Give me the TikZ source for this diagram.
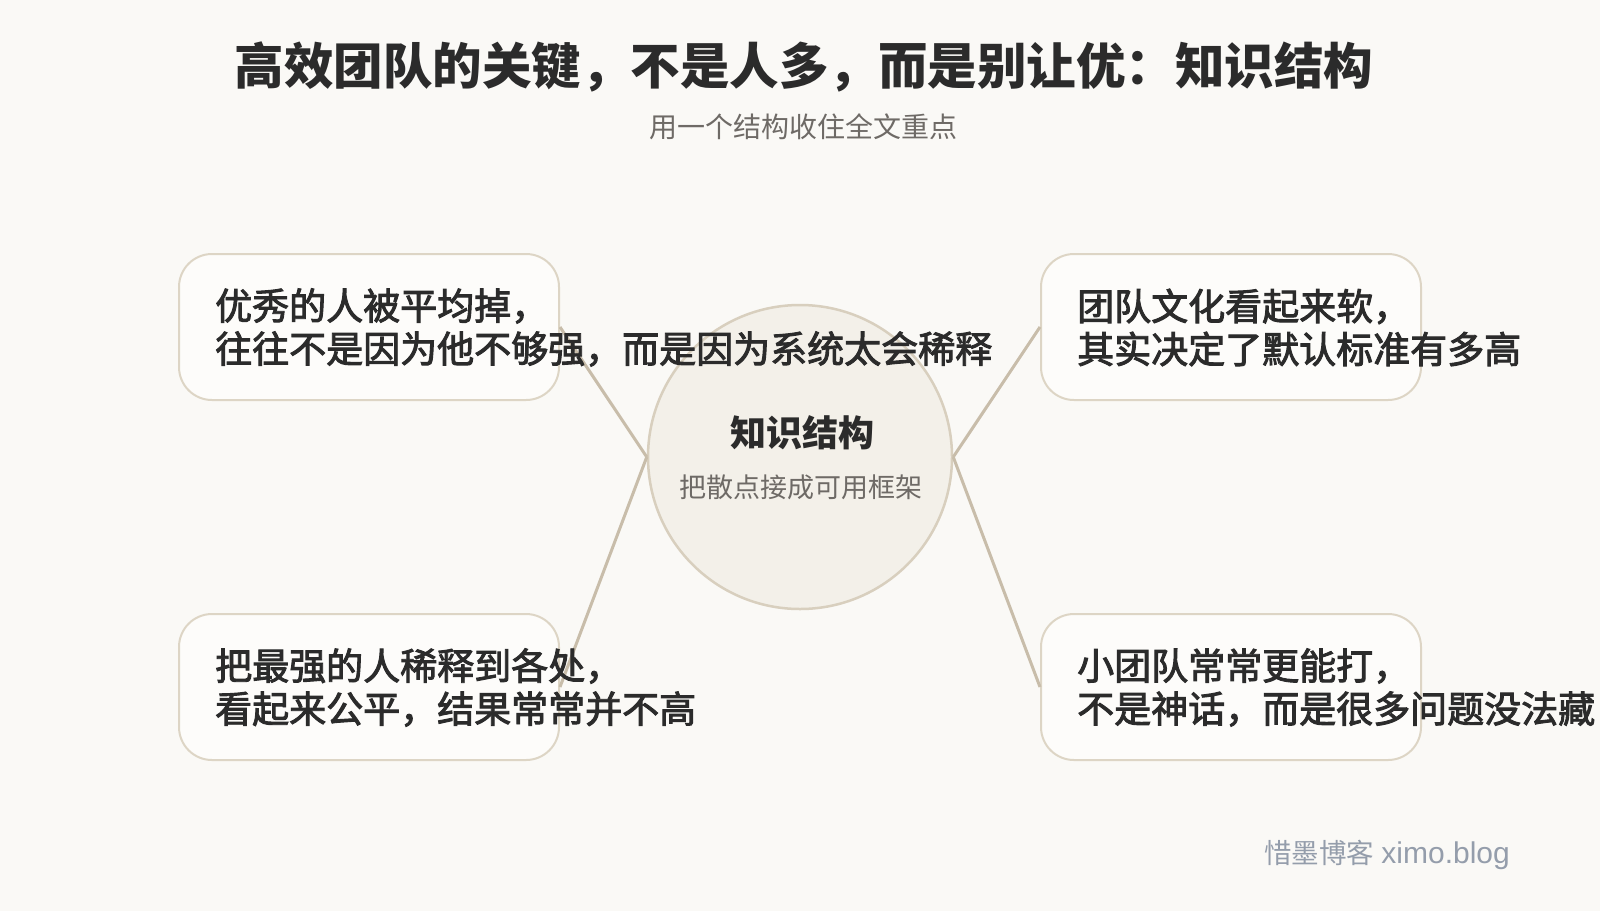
\documentclass[tikz,border=0pt]{standalone}
\usepackage{fontspec}
\setmainfont{Noto Sans CJK SC}
\newfontfamily\cjk{Noto Sans CJK SC}
\newfontfamily\cjkm{Noto Sans CJK SC}[FakeBold=2.5]
\newfontfamily\lat{Liberation Sans}
\definecolor{bgc}{HTML}{FAF9F6}
\definecolor{boxfill}{HTML}{FDFCFA}
\definecolor{boxdraw}{HTML}{DDD5C5}
\definecolor{circfill}{HTML}{F3F0E9}
\definecolor{circdraw}{HTML}{D8CFBE}
\definecolor{linec}{HTML}{C8BDAA}
\definecolor{titlec}{HTML}{2B2B2B}
\definecolor{subc}{HTML}{6E6A66}
\definecolor{markc}{HTML}{949DAB}
\tikzset{
  card/.style={draw=boxdraw, line width=2pt, fill=boxfill, rounded corners=33pt,
    minimum width=380pt, minimum height=146pt, inner sep=0pt},
  cardtext/.style={anchor=west, inner sep=0pt, align=left, text=titlec,
    font=\cjkm\fontsize{37}{43}\selectfont},
  link/.style={draw=linec, line width=3pt},
}
\begin{document}
\begin{tikzpicture}[x=1pt,y=-1pt]
\path[fill=bgc] (0,0) rectangle (1600,911);
\useasboundingbox (0,0) rectangle (1600,911);
% title
\node (title) at (804,67) [inner sep=0pt, text=titlec, font=\cjk\bfseries\fontsize{49.5}{54}\selectfont] {高效团队的关键，不是人多，而是别让优：知识结构};
\node (subtitle) at (803,127) [inner sep=0pt, text=subc, font=\cjk\fontsize{28}{32}\selectfont] {用一个结构收住全文重点};
% center circle
\node (hub) at (800,457) [circle, draw=circdraw, line width=2.5pt, fill=circfill, minimum size=304pt, inner sep=0pt] {};
\node (hubtitle) at (802,433) [inner sep=0pt, text=titlec, font=\cjk\bfseries\fontsize{36}{40}\selectfont] {知识结构};
\node (hubsub) at (801,487) [inner sep=0pt, text=subc, font=\cjk\fontsize{27}{30}\selectfont] {把散点接成可用框架};
% cards
\node (tl) at (369,327) [card] {};
\node (tr) at (1231,327) [card] {};
\node (bl) at (369,687) [card] {};
\node (br) at (1231,687) [card] {};
% links
\draw[link] (tl.east) -- (hub.west);
\draw[link] (bl.east) -- (hub.west);
\draw[link] (tr.west) -- (hub.east);
\draw[link] (br.west) -- (hub.east);
% card texts
\node (tltext) at ([xshift=37pt,yshift=-0.5pt]tl.west) [cardtext] {优秀的人被平均掉，\\往往不是因为他不够强，而是因为系统太会稀释};
\node (trtext) at ([xshift=37pt,yshift=-0.5pt]tr.west) [cardtext] {团队文化看起来软，\\其实决定了默认标准有多高};
\node (bltext) at ([xshift=37pt,yshift=-0.5pt]bl.west) [cardtext] {把最强的人稀释到各处，\\看起来公平，结果常常并不高};
\node (brtext) at ([xshift=37pt,yshift=-0.5pt]br.west) [cardtext] {小团队常常更能打，\\不是神话，而是很多问题没法藏};
% watermark
\node (mark) at (1510,855) [anchor=east, inner sep=0pt, text=markc] {{\cjk\fontsize{27.5}{30}\selectfont 惜墨博客}\hspace{7pt}{\lat\fontsize{30}{30}\selectfont ximo.blog}};
\end{tikzpicture}
\end{document}
